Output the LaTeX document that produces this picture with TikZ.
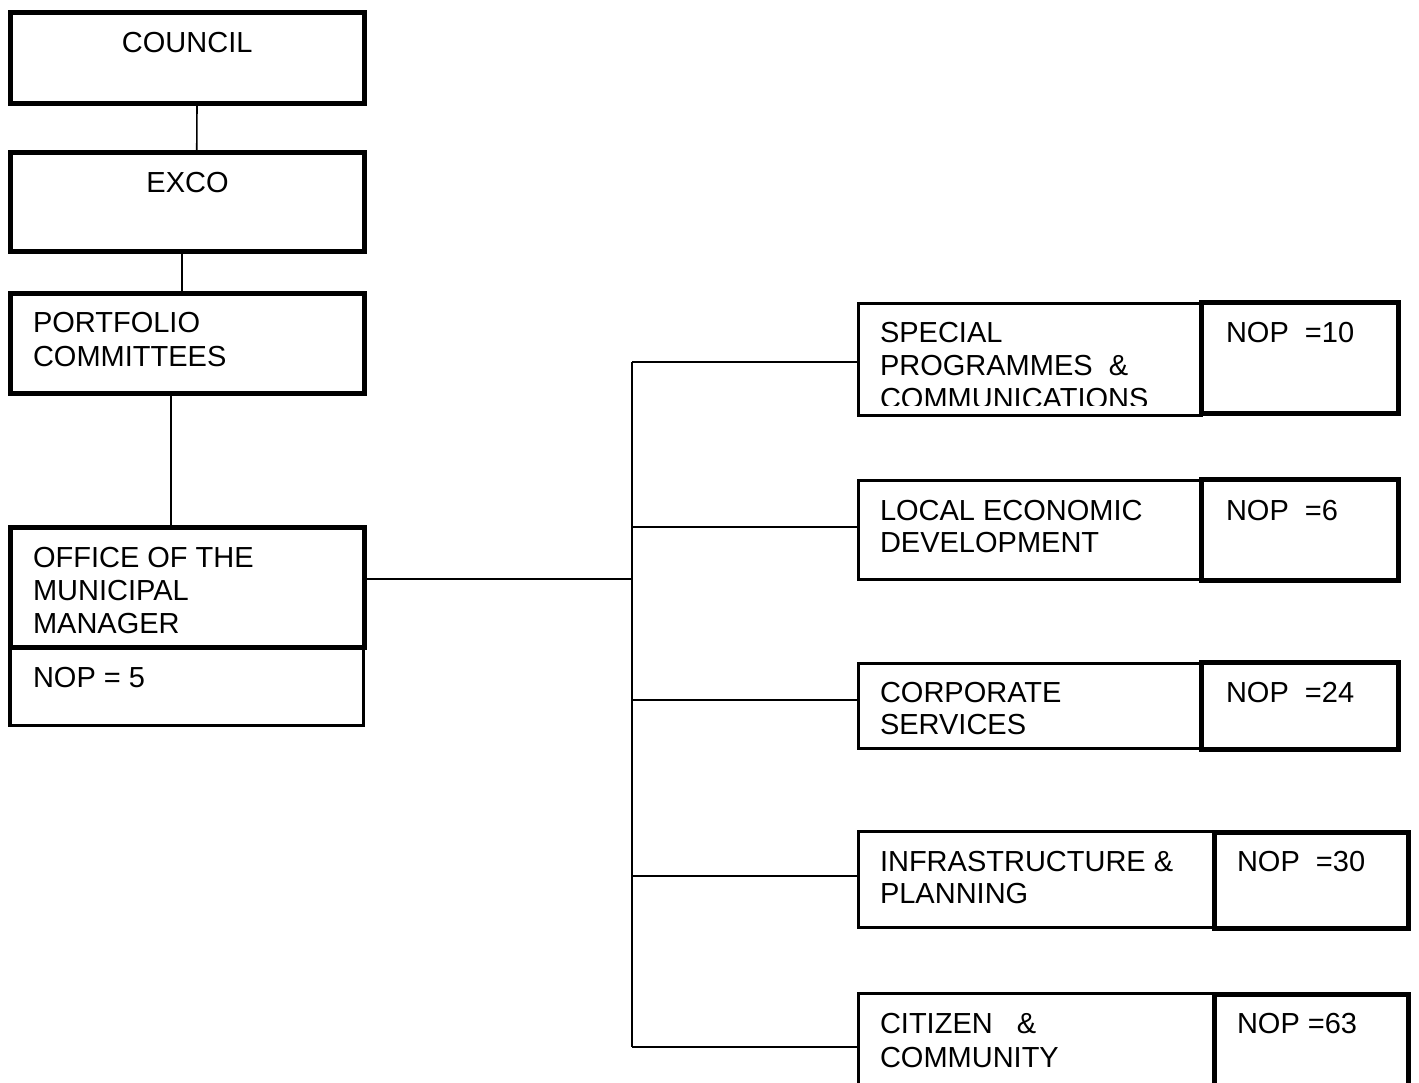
\documentclass[tikz,border=0pt]{standalone}
\usepackage{fontspec}
\setmainfont{Liberation Sans}
\begin{document}
\begin{tikzpicture}[x=1pt,y=-1pt,
  boxbase/.style={draw=black, inner sep=0pt, outer sep=0pt, anchor=north west},
  thickbox/.style={boxbase, line width=5pt},
  thinbox/.style={boxbase, line width=3pt},
  conn/.style={draw=black, line width=1.6pt},
  lbl/.style={inner sep=0pt, outer sep=0pt, anchor=base west, font=\fontsize{29}{33}\selectfont},
  clbl/.style={lbl, anchor=base}
]
\clip (0,0) rectangle (1419,1083);
\fill[white] (0,0) rectangle (1419,1083);

% left column
\node[thickbox, minimum width=354.5pt, minimum height=91pt] (council) at (10,12.5) {};
\node[thickbox, minimum width=354.5pt, minimum height=99pt] (exco) at (10,152.5) {};
\node[thickbox, minimum width=354.5pt, minimum height=100pt] (portfolio) at (10,293.5) {};
\node[boxbase, line width=3.5pt, minimum width=353.5pt, minimum height=78pt] (nop5) at (10,647.5) {};
\node[thickbox, minimum width=354pt, minimum height=120pt] (office) at (10.5,527.5) {};

\node[clbl] (tcouncil) at (187.25,53) {COUNCIL};
\node[clbl] (texco) at (187.5,193) {EXCO};
\node[lbl] (tport1) at (33,333) {PORTFOLIO};
\node[lbl] (tport2) at (33,366) {COMMITTEES};
\node[lbl] (toff1) at (33,567) {OFFICE OF THE};
\node[lbl] (toff2) at (33,600) {MUNICIPAL};
\node[lbl] (toff3) at (33,633) {MANAGER};
\node[lbl] (tnop5) at (33,687) {NOP = 5};

% right column boxes
\node[thinbox, minimum width=343.5pt, minimum height=111.5pt] (special) at (858,303.5) {};
\node[thickbox, minimum width=197pt, minimum height=111pt] (nop10) at (1201.5,302.5) {};
\node[thinbox, minimum width=343.5pt, minimum height=99pt] (local) at (858,480) {};
\node[thickbox, minimum width=197pt, minimum height=100.5pt] (nop6) at (1201.5,479.5) {};
\node[thinbox, minimum width=343.5pt, minimum height=85.5pt] (corp) at (858,663) {};
\node[thickbox, minimum width=197pt, minimum height=87.5pt] (nop24) at (1201.5,662) {};
\node[thinbox, minimum width=356pt, minimum height=96pt] (infra) at (858,831.5) {};
\node[thickbox, minimum width=194.5pt, minimum height=96pt] (nop30) at (1214,832) {};
\node[thinbox, minimum width=356pt, minimum height=120pt] (citizen) at (858,993.5) {};
\node[thickbox, minimum width=194.5pt, minimum height=120pt] (nop63) at (1214,994) {};

% right column texts
\begin{scope}
\clip (858,303) rectangle (1200,405);
\node[lbl] (tsp1) at (880,342) {SPECIAL};
\node[lbl] (tsp2) at (880,375) {PROGRAMMES\ \ \&};
\node[lbl] (tsp3) at (880,408) {COMMUNICATIONS};
\end{scope}
\node[lbl] (tn10) at (1226,342) {NOP\ \ =10};
\node[lbl] (tled1) at (880,520) {LOCAL ECONOMIC};
\node[lbl] (tled2) at (880,552) {DEVELOPMENT};
\node[lbl] (tn6) at (1226,520) {NOP\ \ =6};
\node[lbl] (tcs1) at (880,702) {CORPORATE};
\node[lbl] (tcs2) at (880,734) {SERVICES};
\node[lbl] (tn24) at (1226,702) {NOP\ \ =24};
\node[lbl] (tip1) at (880,871) {INFRASTRUCTURE \&};
\node[lbl] (tip2) at (880,903) {PLANNING};
\node[lbl] (tn30) at (1237,871) {NOP\ \ =30};
\node[lbl] (tcc1) at (880,1033) {CITIZEN\ \ \ \&};
\node[lbl] (tcc2) at (880,1067) {COMMUNITY};
\node[lbl] (tn63) at (1237,1033) {NOP =63};

% connectors
\draw[conn] ([xshift=9.75pt]council.south) -- ([xshift=9.5pt]exco.north);
\draw[conn] ([xshift=-5.25pt]exco.south) -- ([xshift=-5.25pt]portfolio.north);
\draw[conn] ([xshift=-16.25pt]portfolio.south) -- ([xshift=-16.5pt]office.north);

\coordinate (j) at (632,579);
\coordinate (b1) at (632,362);
\coordinate (b2) at (632,527);
\coordinate (b3) at (632,700);
\coordinate (b4) at (632,876);
\coordinate (b5) at (632,1047);
\draw[conn] (office.east |- j) -- (j);
\draw[conn] (b1) -- (b5);
\draw[conn] (b1) -- (b1 -| special.west);
\draw[conn] (b2) -- (b2 -| local.west);
\draw[conn] (b3) -- (b3 -| corp.west);
\draw[conn] (b4) -- (b4 -| infra.west);
\draw[conn] (b5) -- (b5 -| citizen.west);
\end{tikzpicture}
\end{document}
